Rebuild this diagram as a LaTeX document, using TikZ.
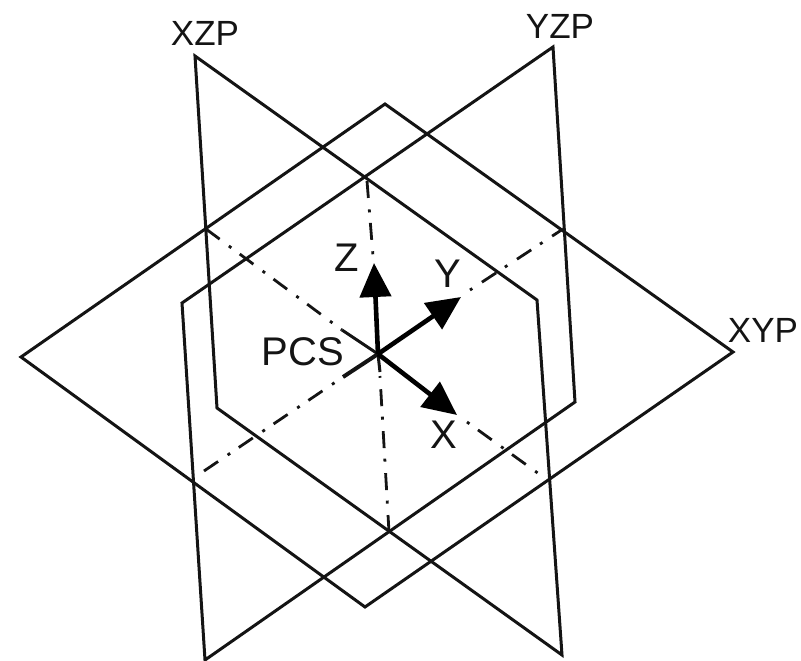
\documentclass[tikz,border=0pt]{standalone}
\usepackage{fontspec}
\setmainfont{Liberation Sans}
\usetikzlibrary{arrows.meta}

\begin{document}
\begin{tikzpicture}[
  x=1pt, y=-1pt,
  plane/.style={line width=3pt, line join=miter, black!92},
  axisline/.style={line width=2.8pt, black!92, dash pattern=on 17pt off 11.5pt on 3pt off 10.5pt},
  tail/.style={line width=#1, black!92},
  axisarrow/.style={line width=4.6pt, black, -{Triangle[length=34pt, width=31pt]}},
  planelabel/.style={inner sep=0pt, font=\fontsize{35}{35}\selectfont, text=black!92},
  axislabel/.style={inner sep=0pt, font=\fontsize{40}{40}\selectfont, text=black!92}
]
  \useasboundingbox (0,0) rectangle (801,661);

  \coordinate (pcs) at (378,354);

  % Planes
  \draw[plane] (21,357) -- (385,104) -- (733,352) -- (365,607) -- cycle;
  \draw[plane] (195,56) -- (537,300) -- (562,655) -- (217,408) -- cycle;
  \draw[plane] (553,47) -- (182,303) -- (205,660) -- (575,402) -- cycle;

  % Intersection lines
  \draw[axisline] (206,229) -- (342,330);
  \draw[axisline, dash phase=28.5pt] (467,422) -- (546,479);
  \draw[axisline] (204,471) -- (343,377);
  \draw[axisline, dash phase=4pt] (563,229) -- (470,290);
  \draw[axisline] (367,181) -- (373,256);
  \draw[axisline] (389,532) -- (380,376);
  \draw[tail=3pt] (342,330) -- (pcs);
  \draw[tail=4pt] (343,377) -- (pcs);
  \draw[tail=3pt] (pcs) -- (380,372);

  % Axes
  \draw[axisarrow] (pcs) -- (374,263);
  \draw[axisarrow] (pcs) -- (461,297);
  \draw[axisarrow] (pcs) -- (457,415);

  % Labels
  \node[planelabel] (xzp) at (205,33) {XZP};
  \node[planelabel] (yzp) at (560,26) {YZP};
  \node[planelabel] (xyp) at (763,330) {XYP};
  \node[axislabel] (pcslabel) at (303,352) {PCS};
  \node[axislabel] (zlabel) at (347,258) {Z};
  \node[axislabel] (ylabel) at (448,274) {Y};
  \node[axislabel] (xlabel) at (444,435) {X};
\end{tikzpicture}
\end{document}
